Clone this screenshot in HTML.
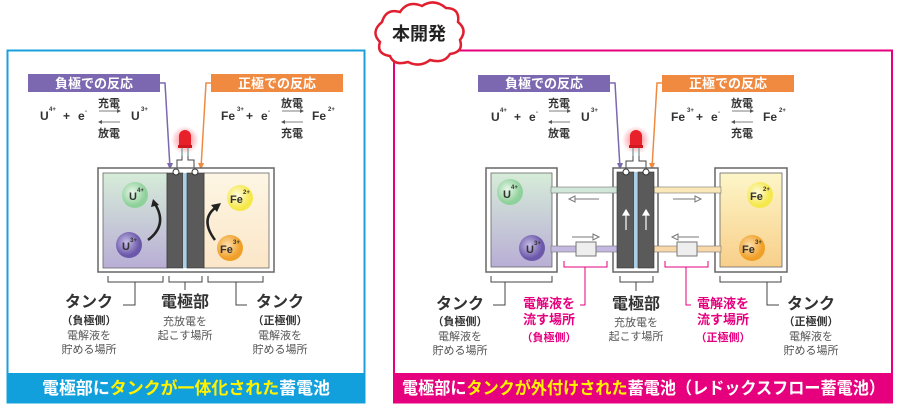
<!DOCTYPE html>
<html><head><meta charset="utf-8"><style>
html,body{margin:0;padding:0;background:#fff;}
svg{display:block;font-family:"Liberation Sans","Noto Sans CJK JP",sans-serif;}
</style></head><body>
<svg width="900" height="410" viewBox="0 0 900 410" xmlns="http://www.w3.org/2000/svg">
<defs>
<linearGradient id="gL" x1="0" y1="0" x2="0" y2="1"><stop offset="0" stop-color="#d6ecd8"/><stop offset="1" stop-color="#b9aed6"/></linearGradient>
<linearGradient id="gR" x1="0" y1="0" x2="0" y2="1"><stop offset="0" stop-color="#fdf6e4"/><stop offset="1" stop-color="#fbe6c8"/></linearGradient>
<linearGradient id="gR2" x1="0" y1="0" x2="0" y2="1"><stop offset="0" stop-color="#fdf6c8"/><stop offset="1" stop-color="#f8cf8a"/></linearGradient>
<radialGradient id="cG" cx="0.4" cy="0.4"><stop offset="0" stop-color="#e8f6ea"/><stop offset="1" stop-color="#8fd19a"/></radialGradient>
<radialGradient id="cP" cx="0.4" cy="0.4"><stop offset="0" stop-color="#c8bfe6"/><stop offset="1" stop-color="#6c58aa"/></radialGradient>
<radialGradient id="cY" cx="0.4" cy="0.4"><stop offset="0" stop-color="#fffbe0"/><stop offset="1" stop-color="#f5e84a"/></radialGradient>
<radialGradient id="cO" cx="0.4" cy="0.4"><stop offset="0" stop-color="#fde0b0"/><stop offset="1" stop-color="#f0a028"/></radialGradient>
<radialGradient id="glow"><stop offset="0" stop-color="#ff3040" stop-opacity="0.7"/><stop offset="1" stop-color="#ff3040" stop-opacity="0"/></radialGradient>
</defs>

<!-- LEFT PANEL -->
<rect x="7.5" y="50.5" width="357" height="352" fill="#fff" stroke="#1aa0dc" stroke-width="2"/>
<rect x="7" y="373" width="358" height="30" fill="#12a0dc"/>
<text x="42" y="394" font-size="17" fill="#fff" font-weight="bold" textLength="288" lengthAdjust="spacingAndGlyphs">電極部に<tspan fill="#fff200">タンクが一体化された</tspan>蓄電池</text>

<rect x="28" y="74" width="132" height="18" fill="#7b68b0"/>
<text x="94" y="88" font-size="13" fill="#fff" text-anchor="middle" font-weight="bold">負極での反応</text>
<rect x="211" y="74" width="132" height="18" fill="#f08a40"/>
<text x="277" y="88" font-size="13" fill="#fff" text-anchor="middle" font-weight="bold">正極での反応</text>
<path d="M160,83 H165 L170,168" fill="none" stroke="#7b68b0" stroke-width="1.5"/>
<path d="M167,163 L170,170 L173,163z" fill="#7b68b0"/>
<path d="M211,83 H206 L201,168" fill="none" stroke="#f08a40" stroke-width="1.5"/>
<path d="M198,163 L201,170 L204,163z" fill="#f08a40"/>

<g font-size="12" fill="#333" font-weight="bold">
<text x="40" y="120">U</text><text x="49" y="111" font-size="6">4+</text><text x="63" y="120">+</text><text x="78" y="120">e</text><text x="85" y="113" font-size="6">-</text>
<text x="98" y="107" font-size="11">充電</text><text x="98" y="137" font-size="11">放電</text>
<text x="131" y="120">U</text><text x="141" y="111" font-size="6">3+</text>
<text x="221" y="120">Fe</text><text x="237" y="111" font-size="6">3+</text><text x="246" y="120">+</text><text x="261" y="120">e</text><text x="268" y="113" font-size="6">-</text>
<text x="281" y="107" font-size="11">放電</text><text x="281" y="137" font-size="11">充電</text>
<text x="312" y="120">Fe</text><text x="328" y="111" font-size="6">2+</text>
</g>
<g stroke="#555" stroke-width="0.8"><line x1="99" y1="111" x2="120" y2="111"/><line x1="99" y1="122" x2="120" y2="122"/><line x1="282" y1="111" x2="303" y2="111"/><line x1="282" y1="122" x2="303" y2="122"/></g>
<path d="M117,109 L121,111 L117,113z M102,120 L98,122 L102,124z M300,109 L304,111 L300,113z M285,120 L281,122 L285,124z" fill="#555"/>

<!-- LED left -->
<circle cx="185" cy="140" r="14" fill="url(#glow)"/>
<path d="M179,146 V136 a6,6 0 0 1 12,0 V146z" fill="#e8202a"/>
<rect x="178" y="145" width="14" height="3" fill="#d01820"/>
<g stroke="#8aa" stroke-width="1.5"><line x1="182" y1="148" x2="182" y2="156"/><line x1="188" y1="148" x2="188" y2="156"/></g>
<path d="M182,156 V160 H177 V168 M188,156 V160 H194 V168" fill="none" stroke="#444" stroke-width="1"/>

<!-- cell left -->
<rect x="98" y="168" width="176" height="104" fill="#fff" stroke="#666" stroke-width="1.5"/>
<rect x="103" y="173" width="64" height="95" fill="url(#gL)" stroke="#666" stroke-width="0.8"/>
<rect x="204" y="173" width="65" height="95" fill="url(#gR)" stroke="#666" stroke-width="0.8"/>
<rect x="167" y="173" width="16" height="95" fill="#5a5a5a" stroke="#333" stroke-width="0.6"/>
<rect x="183" y="173" width="4" height="95" fill="#a9d0e4"/>
<rect x="187" y="173" width="17" height="95" fill="#5a5a5a" stroke="#333" stroke-width="0.6"/>
<circle cx="176" cy="172" r="3" fill="#fff" stroke="#333"/><circle cx="195" cy="172" r="3" fill="#fff" stroke="#333"/>
<circle cx="135" cy="195" r="13" fill="url(#cG)"/>
<circle cx="129" cy="245" r="13" fill="url(#cP)"/>
<circle cx="240" cy="198" r="13" fill="url(#cY)"/>
<circle cx="230" cy="248" r="13" fill="url(#cO)"/>
<g font-size="11" font-weight="bold" fill="#333">
<text x="129" y="200">U</text><text x="137" y="192" font-size="6">4+</text>
<text x="122" y="250">U</text><text x="130" y="242" font-size="6">3+</text>
<text x="230" y="203">Fe</text><text x="243" y="194" font-size="6">2+</text>
<text x="220" y="253">Fe</text><text x="233" y="244" font-size="6">3+</text>
</g>
<path d="M148,240 Q168,225 155,204" fill="none" stroke="#222" stroke-width="2.5"/>
<path d="M151,207 L153,199 L159,205z" fill="#222"/>
<path d="M215,240 Q200,220 215,208" fill="none" stroke="#222" stroke-width="2.5"/>
<path d="M211,205 L221,203 L217,212z" fill="#222"/>

<!-- brackets left -->
<g fill="none" stroke="#444" stroke-width="1">
<path d="M108,276 V282 H163 V276 M135,282 V305 H123"/>
<path d="M169,276 V282 H202 V276 M185,282 V290"/>
<path d="M208,276 V282 H263 V276 M236,282 V305 H247"/>
</g>
<g text-anchor="middle" fill="#333">
<text x="89" y="307" font-size="16" font-weight="bold">タンク</text>
<text x="89" y="324" font-size="11" font-weight="bold">（負極側）</text>
<text x="89" y="339" font-size="11" fill="#555">電解液を</text>
<text x="89" y="353" font-size="11" fill="#555">貯める場所</text>
<text x="185" y="307" font-size="16" font-weight="bold">電極部</text>
<text x="185" y="325" font-size="11" fill="#555">充放電を</text>
<text x="185" y="339" font-size="11" fill="#555">起こす場所</text>
<text x="280" y="307" font-size="16" font-weight="bold">タンク</text>
<text x="280" y="324" font-size="11" font-weight="bold">（正極側）</text>
<text x="280" y="339" font-size="11" fill="#555">電解液を</text>
<text x="280" y="353" font-size="11" fill="#555">貯める場所</text>
</g>

<!-- RIGHT PANEL -->
<rect x="394" y="50.5" width="498" height="352" fill="#fff" stroke="#e6007e" stroke-width="2"/>
<rect x="393" y="373" width="500" height="30" fill="#e6007e"/>
<text x="402" y="394" font-size="17" fill="#fff" font-weight="bold" textLength="483" lengthAdjust="spacingAndGlyphs">電極部に<tspan fill="#fff200">タンクが外付けされた</tspan>蓄電池（レドックスフロー蓄電池）</text>

<!-- cloud -->
<path d="M382,22 q4,-14 18,-10 q8,-12 22,-6 q12,-8 24,2 q14,0 12,14 q10,8 2,18 q4,12 -10,14 q-6,10 -20,6 q-10,8 -22,2 q-14,4 -18,-6 q-14,-2 -10,-14 q-10,-10 2,-20z" fill="#fff" stroke="#e02030" stroke-width="2.5"/>
<text x="419" y="40" font-size="18" font-weight="bold" fill="#222" text-anchor="middle">本開発</text>

<rect x="478" y="75" width="132" height="17" fill="#7b68b0"/>
<text x="544" y="88" font-size="13" fill="#fff" text-anchor="middle" font-weight="bold">負極での反応</text>
<rect x="662" y="75" width="132" height="17" fill="#f08a40"/>
<text x="728" y="88" font-size="13" fill="#fff" text-anchor="middle" font-weight="bold">正極での反応</text>
<path d="M610,83 H615 L620,168" fill="none" stroke="#7b68b0" stroke-width="1.5"/>
<path d="M617,163 L620,170 L623,163z" fill="#7b68b0"/>
<path d="M662,83 H657 L652,168" fill="none" stroke="#f08a40" stroke-width="1.5"/>
<path d="M649,163 L652,170 L655,163z" fill="#f08a40"/>

<g font-size="12" fill="#333" font-weight="bold">
<text x="491" y="121">U</text><text x="500" y="112" font-size="6">4+</text><text x="514" y="121">+</text><text x="529" y="121">e</text><text x="536" y="114" font-size="6">-</text>
<text x="548" y="107" font-size="11">充電</text><text x="548" y="137" font-size="11">放電</text>
<text x="581" y="121">U</text><text x="591" y="112" font-size="6">3+</text>
<text x="671" y="121">Fe</text><text x="687" y="112" font-size="6">3+</text><text x="696" y="121">+</text><text x="711" y="121">e</text><text x="718" y="114" font-size="6">-</text>
<text x="731" y="107" font-size="11">放電</text><text x="731" y="137" font-size="11">充電</text>
<text x="763" y="121">Fe</text><text x="779" y="112" font-size="6">2+</text>
</g>
<g stroke="#555" stroke-width="0.8"><line x1="549" y1="111" x2="570" y2="111"/><line x1="549" y1="122" x2="570" y2="122"/><line x1="732" y1="111" x2="753" y2="111"/><line x1="732" y1="122" x2="753" y2="122"/></g>
<path d="M567,109 L571,111 L567,113z M552,120 L548,122 L552,124z M750,109 L754,111 L750,113z M735,120 L731,122 L735,124z" fill="#555"/>

<!-- LED right -->
<circle cx="636" cy="140" r="14" fill="url(#glow)"/>
<path d="M630,146 V136 a6,6 0 0 1 12,0 V146z" fill="#e8202a"/>
<rect x="629" y="145" width="14" height="3" fill="#d01820"/>
<g stroke="#8aa" stroke-width="1.5"><line x1="633" y1="148" x2="633" y2="156"/><line x1="639" y1="148" x2="639" y2="156"/></g>
<path d="M633,156 V161 H626 V170 M639,156 V161 H646 V170" fill="none" stroke="#444" stroke-width="1"/>

<!-- tanks -->
<rect x="486" y="168" width="71" height="104" fill="#fff" stroke="#666" stroke-width="1.5"/>
<rect x="491" y="173" width="61" height="94" fill="url(#gL)" stroke="#666" stroke-width="0.8"/>
<rect x="715" y="168" width="72" height="104" fill="#fff" stroke="#666" stroke-width="1.5"/>
<rect x="720" y="173" width="62" height="94" fill="url(#gR2)" stroke="#666" stroke-width="0.8"/>
<rect x="613" y="168" width="45" height="104" fill="#fff" stroke="#666" stroke-width="1.5"/>

<!-- pipes (drawn through walls) -->
<rect x="551" y="187" width="67" height="6" fill="#cfe6d8" stroke="#777" stroke-width="0.6"/>
<rect x="654" y="187" width="67" height="6" fill="#fbe8b8" stroke="#777" stroke-width="0.6"/>
<rect x="551" y="246" width="67" height="6" fill="#c2b8e0" stroke="#777" stroke-width="0.6"/>
<rect x="654" y="246" width="67" height="6" fill="#f8d8a8" stroke="#777" stroke-width="0.6"/>
<rect x="576" y="242" width="20" height="14" fill="#eee" stroke="#777"/>
<rect x="677" y="242" width="20" height="14" fill="#eee" stroke="#777"/>
<g stroke="#777" stroke-width="1" fill="#fff">
<line x1="575" y1="199" x2="599" y2="199"/><path d="M575,196 L569,199 L575,202z"/>
<line x1="673" y1="199" x2="695" y2="199"/><path d="M695,196 L701,199 L695,202z"/>
<line x1="572" y1="237" x2="593" y2="237"/><path d="M593,234 L599,237 L593,240z"/>
<line x1="678" y1="237" x2="699" y2="237"/><path d="M678,234 L672,237 L678,240z"/>
</g>

<rect x="617" y="172" width="17" height="96" fill="#5a5a5a" stroke="#333" stroke-width="0.6"/>
<rect x="634" y="172" width="4" height="96" fill="#a9d0e4"/>
<rect x="638" y="172" width="16" height="96" fill="#5a5a5a" stroke="#333" stroke-width="0.6"/>
<circle cx="626" cy="172" r="3" fill="#fff" stroke="#333"/><circle cx="646" cy="172" r="3" fill="#fff" stroke="#333"/>
<g stroke="#fff" stroke-width="1.2" fill="#fff">
<line x1="626" y1="230" x2="626" y2="215"/><path d="M623,215 L626,210 L629,215z"/>
<line x1="646" y1="230" x2="646" y2="215"/><path d="M643,215 L646,210 L649,215z"/>
</g>
<circle cx="510" cy="192" r="13" fill="url(#cG)"/>
<circle cx="532" cy="248" r="13" fill="url(#cP)"/>
<circle cx="760" cy="195" r="13" fill="url(#cY)"/>
<circle cx="752" cy="248" r="13" fill="url(#cO)"/>
<g font-size="11" font-weight="bold" fill="#333">
<text x="503" y="198">U</text><text x="511" y="189" font-size="6">4+</text>
<text x="526" y="253">U</text><text x="534" y="245" font-size="6">3+</text>
<text x="750" y="200">Fe</text><text x="763" y="191" font-size="6">2+</text>
<text x="742" y="253">Fe</text><text x="755" y="244" font-size="6">3+</text>
</g>

<!-- brackets right -->
<g fill="none" stroke="#444" stroke-width="1">
<path d="M491,276 V282 H552 V276 M505,282 V305 H493"/>
<path d="M620,276 V282 H653 V276 M636,282 V291"/>
<path d="M720,276 V282 H781 V276 M767,282 V305 H779"/>
</g>
<g fill="none" stroke="#e6007e" stroke-width="1">
<path d="M564,261 V267 H607 V261 M585,267 V305 H580"/>
<path d="M665,261 V267 H708 V261 M686,267 V305 H691"/>
</g>
<g text-anchor="middle" fill="#333">
<text x="460" y="309" font-size="16" font-weight="bold">タンク</text>
<text x="460" y="325" font-size="11" font-weight="bold">（負極側）</text>
<text x="460" y="340" font-size="11" fill="#555">電解液を</text>
<text x="460" y="354" font-size="11" fill="#555">貯める場所</text>
<text x="549" y="308" font-size="13" font-weight="bold" fill="#e6007e">電解液を</text>
<text x="549" y="324" font-size="13" font-weight="bold" fill="#e6007e">流す場所</text>
<text x="549" y="341" font-size="11" font-weight="bold" fill="#e6007e">（負極側）</text>
<text x="636" y="309" font-size="16" font-weight="bold">電極部</text>
<text x="636" y="326" font-size="11" fill="#555">充放電を</text>
<text x="636" y="340" font-size="11" fill="#555">起こす場所</text>
<text x="723" y="308" font-size="13" font-weight="bold" fill="#e6007e">電解液を</text>
<text x="723" y="324" font-size="13" font-weight="bold" fill="#e6007e">流す場所</text>
<text x="723" y="341" font-size="11" font-weight="bold" fill="#e6007e">（正極側）</text>
<text x="811" y="309" font-size="16" font-weight="bold">タンク</text>
<text x="811" y="325" font-size="11" font-weight="bold">（正極側）</text>
<text x="811" y="340" font-size="11" fill="#555">電解液を</text>
<text x="811" y="354" font-size="11" fill="#555">貯める場所</text>
</g>
</svg>
</body></html>
